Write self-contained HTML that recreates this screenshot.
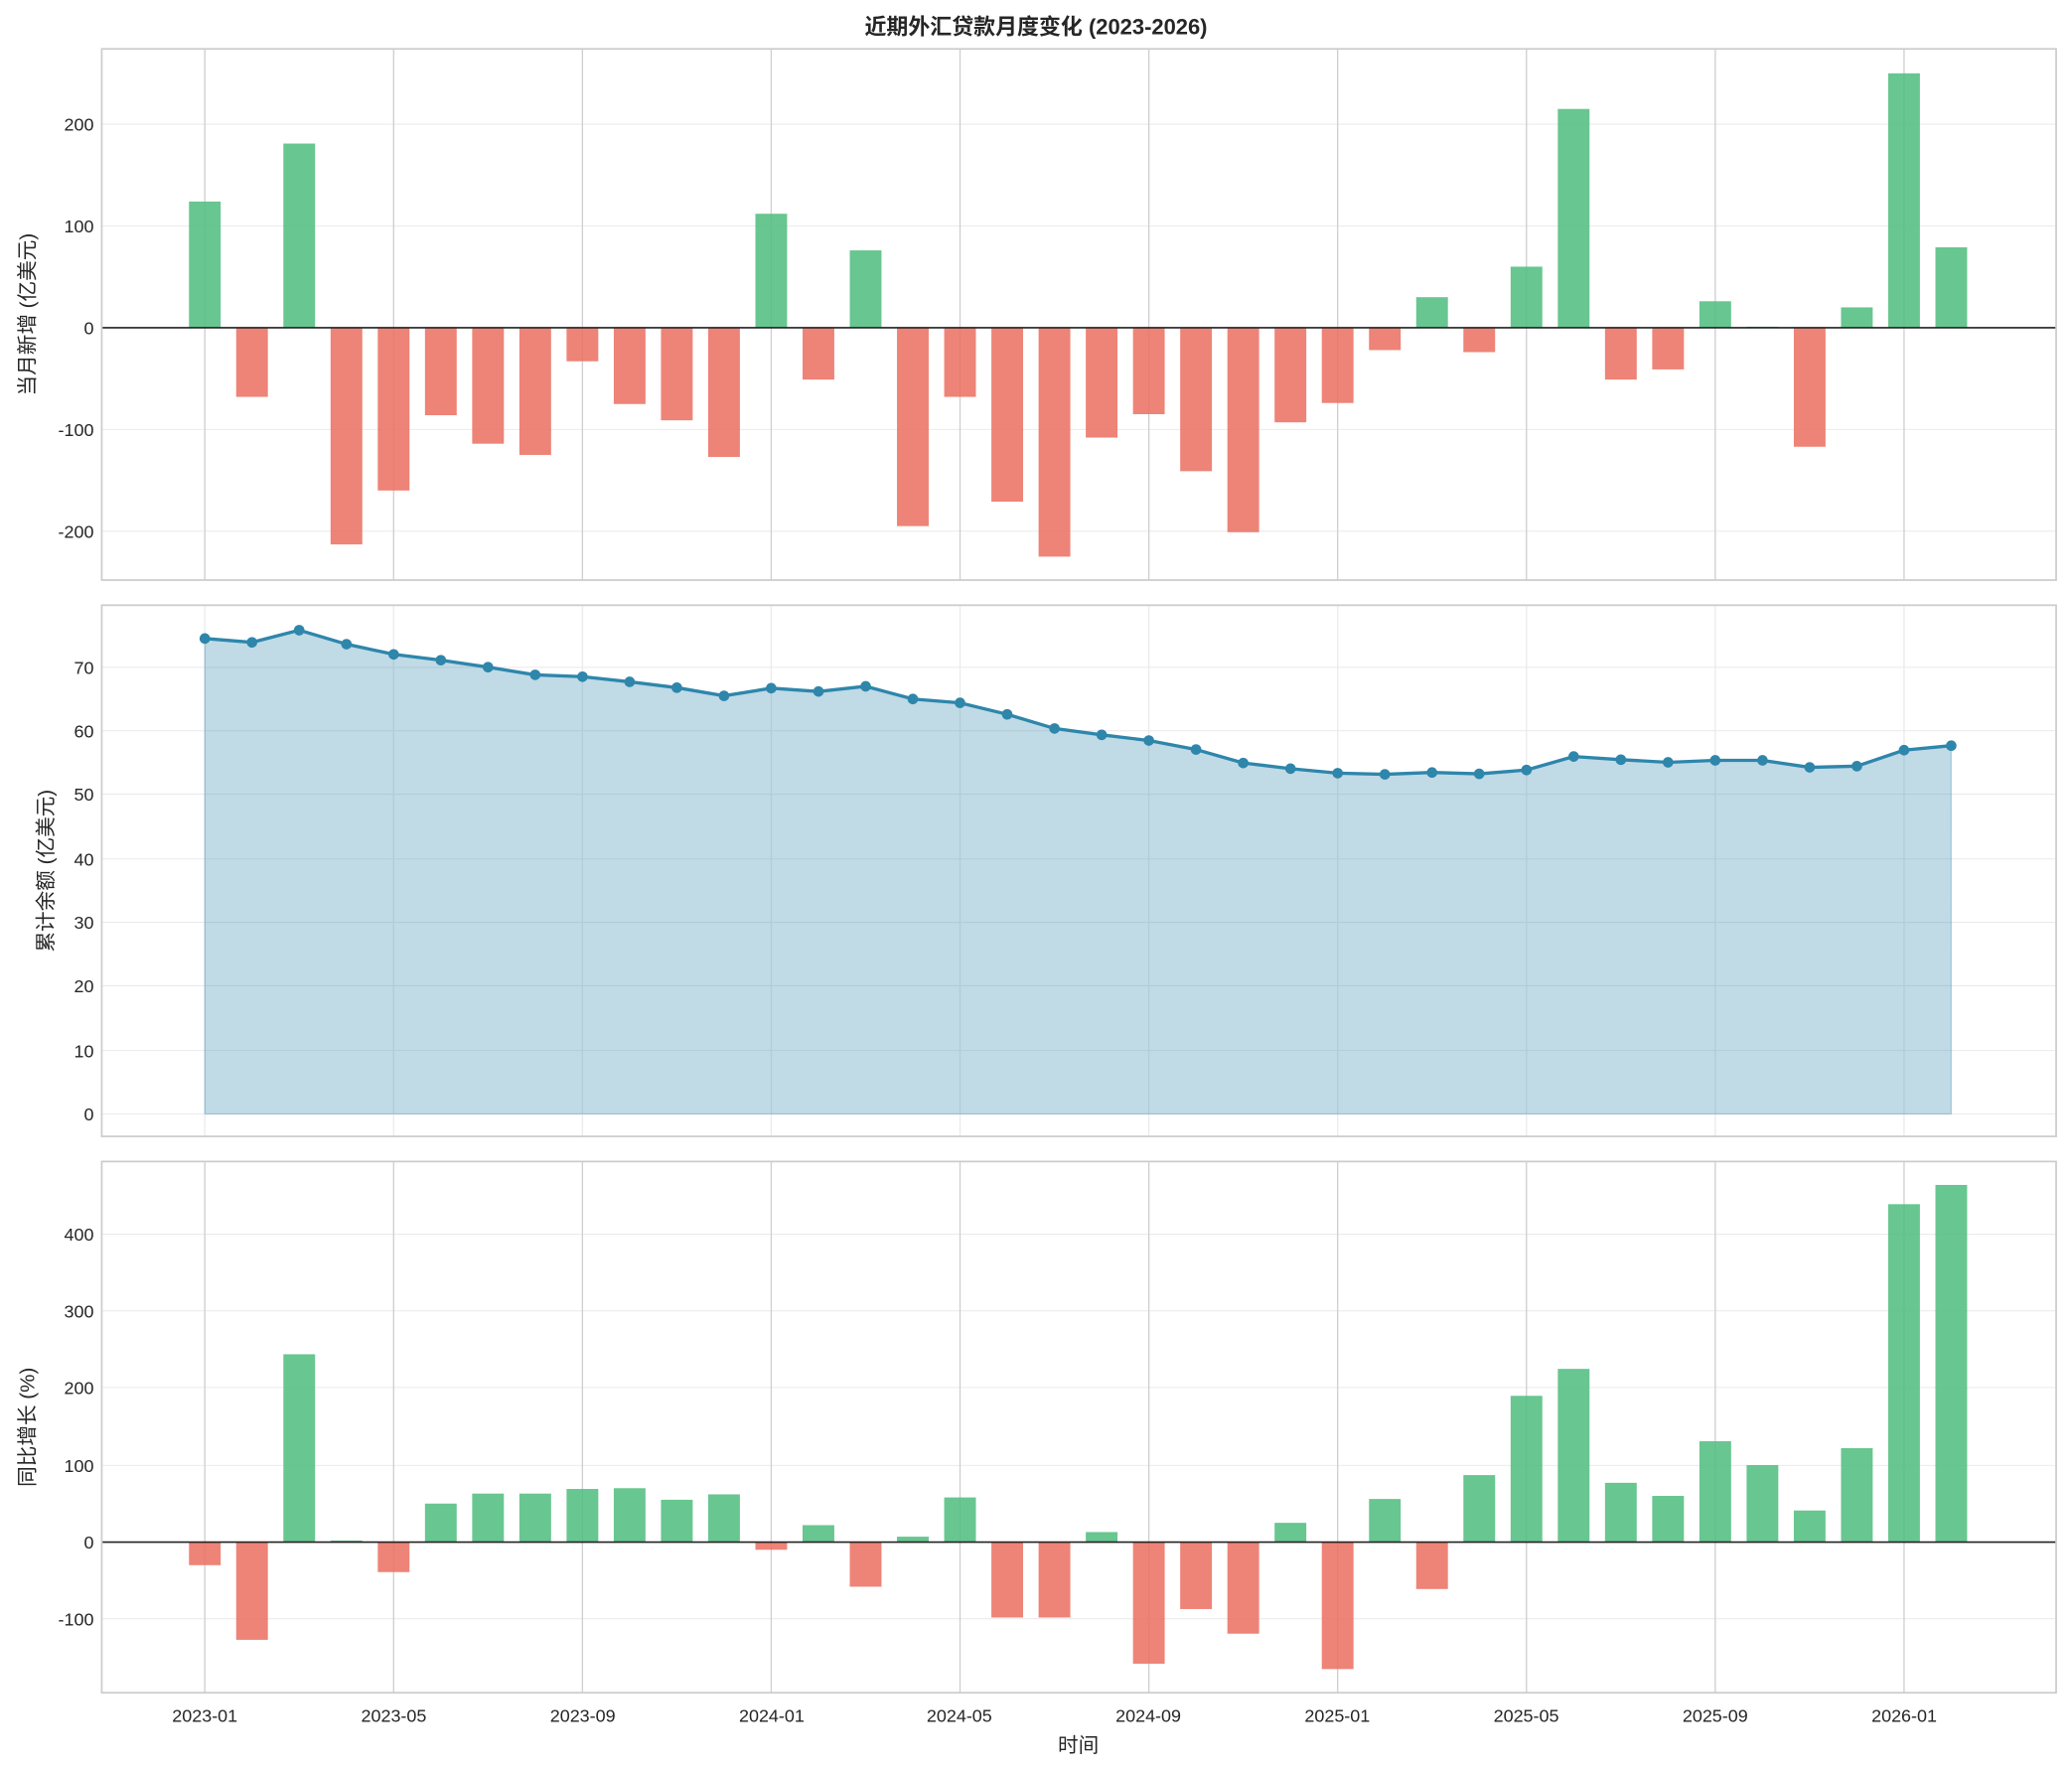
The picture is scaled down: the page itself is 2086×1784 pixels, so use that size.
<!DOCTYPE html>
<html><head><meta charset="utf-8"><style>
html,body{margin:0;padding:0;background:#fff}
svg{display:block}
text{font-family:"Liberation Sans","Noto Sans CJK SC",sans-serif;fill:#262626}
.t{font-size:13.5px}
</style></head><body>
<svg id="s" width="2086" height="1784" viewBox="0 0 1568 1341" xmlns="http://www.w3.org/2000/svg">
<rect width="1568" height="1341" fill="#fff"/>
<g id="g"></g>
<text x="784" y="26" text-anchor="middle" style="font-size:16.5px;font-weight:bold">近期外汇贷款月度变化 (2023-2026)</text>
<g class="t" text-anchor="end">
<text x="71" y="99">200</text><text x="71" y="176">100</text><text x="71" y="253">0</text><text x="71" y="330">-100</text><text x="71" y="407">-200</text>
<text x="71" y="510">70</text><text x="71" y="558">60</text><text x="71" y="606">50</text><text x="71" y="655">40</text><text x="71" y="703">30</text><text x="71" y="751">20</text><text x="71" y="800">10</text><text x="71" y="848">0</text>
<text x="71" y="939">400</text><text x="71" y="997">300</text><text x="71" y="1055">200</text><text x="71" y="1114">100</text><text x="71" y="1172">0</text><text x="71" y="1230">-100</text>
</g>
<g class="t" text-anchor="middle">
<text x="155" y="1303">2023-01</text><text x="298" y="1303">2023-05</text><text x="441" y="1303">2023-09</text><text x="584" y="1303">2024-01</text><text x="726" y="1303">2024-05</text><text x="869" y="1303">2024-09</text><text x="1012" y="1303">2025-01</text><text x="1155" y="1303">2025-05</text><text x="1298" y="1303">2025-09</text><text x="1441" y="1303">2026-01</text>
</g>
<text x="816" y="1326" text-anchor="middle" style="font-size:15.5px">时间</text>
<text transform="translate(26,238) rotate(-90)" text-anchor="middle" style="font-size:15.5px">当月新增 (亿美元)</text>
<text transform="translate(40,659) rotate(-90)" text-anchor="middle" style="font-size:15.5px">累计余额 (亿美元)</text>
<text transform="translate(26,1080) rotate(-90)" text-anchor="middle" style="font-size:15.5px">同比增长 (%)</text>
</svg>
<script>
var g=document.getElementById('g'),h='';
function X(i){return 155+i*35.72;}
var d1=[124,-68,181,-213,-160,-86,-114,-125,-33,-75,-91,-127,112,-51,76,-195,-68,-171,-225,-108,-85,-141,-201,-93,-74,-22,30,-24,60,215,-51,-41,26,1,-117,20,250,79];
var d2=[74.5,73.9,75.8,73.6,72.0,71.1,70.0,68.8,68.5,67.7,66.8,65.5,66.7,66.2,67.0,65.0,64.4,62.6,60.4,59.4,58.5,57.1,55.0,54.1,53.4,53.2,53.5,53.3,53.9,56.0,55.5,55.1,55.4,55.4,54.3,54.5,57.0,57.7];
var d3=[-30,-127,244,2,-39,50,63,63,69,70,55,62,-10,22,-58,7,58,-98,-98,13,-158,-87,-119,25,-165,56,-61,87,190,225,77,60,131,100,41,122,439,464];
var panels=[[37,439],[458,860],[879,1281]];
var hg=[[94,171,248,325,402],[505,553,601,650,698,746,795,843],[934,992,1050,1109,1167,1225]];
panels.forEach(function(p,k){
 hg[k].forEach(function(y){h+='<line x1="77" x2="1556" y1="'+y+'" y2="'+y+'" stroke="#ebebeb" stroke-width="0.8"/>';});
 for(var i=0;i<=36;i+=4){h+='<line x1="'+X(i)+'" x2="'+X(i)+'" y1="'+p[0]+'" y2="'+p[1]+'" stroke="'+(k==1?'#ebebeb':'#cfcfcf')+'" stroke-width="1"/>';}
});
function bars(d,z,s){d.forEach(function(v,i){var y=z-v*s;h+='<rect x="'+(X(i)-12)+'" y="'+Math.min(y,z)+'" width="24" height="'+Math.abs(v*s)+'" fill="'+(v>=0?'#52be80':'#ec7063')+'" fill-opacity="0.87"/>';});
 h+='<line x1="77" x2="1556" y1="'+z+'" y2="'+z+'" stroke="#222" stroke-width="1.2"/>';}
bars(d1,248,0.77);
bars(d3,1167,0.5825);
var pts=d2.map(function(v,i){return X(i).toFixed(1)+','+(843-v*4.83).toFixed(1);});
h+='<polygon points="'+X(0)+',843 '+pts.join(' ')+' '+X(37)+',843" fill="#2e86ab" fill-opacity="0.3" stroke="#2e86ab" stroke-opacity="0.3"/>';
h+='<polyline points="'+pts.join(' ')+'" fill="none" stroke="#2e86ab" stroke-width="2.5"/>';
pts.forEach(function(p){var a=p.split(',');h+='<circle cx="'+a[0]+'" cy="'+a[1]+'" r="4" fill="#2e86ab"/>';});
panels.forEach(function(p){h+='<rect x="77" y="'+p[0]+'" width="1479" height="'+(p[1]-p[0])+'" fill="none" stroke="#cccccc" stroke-width="1.3"/>';});
g.innerHTML=h;
</script>
</body></html>
